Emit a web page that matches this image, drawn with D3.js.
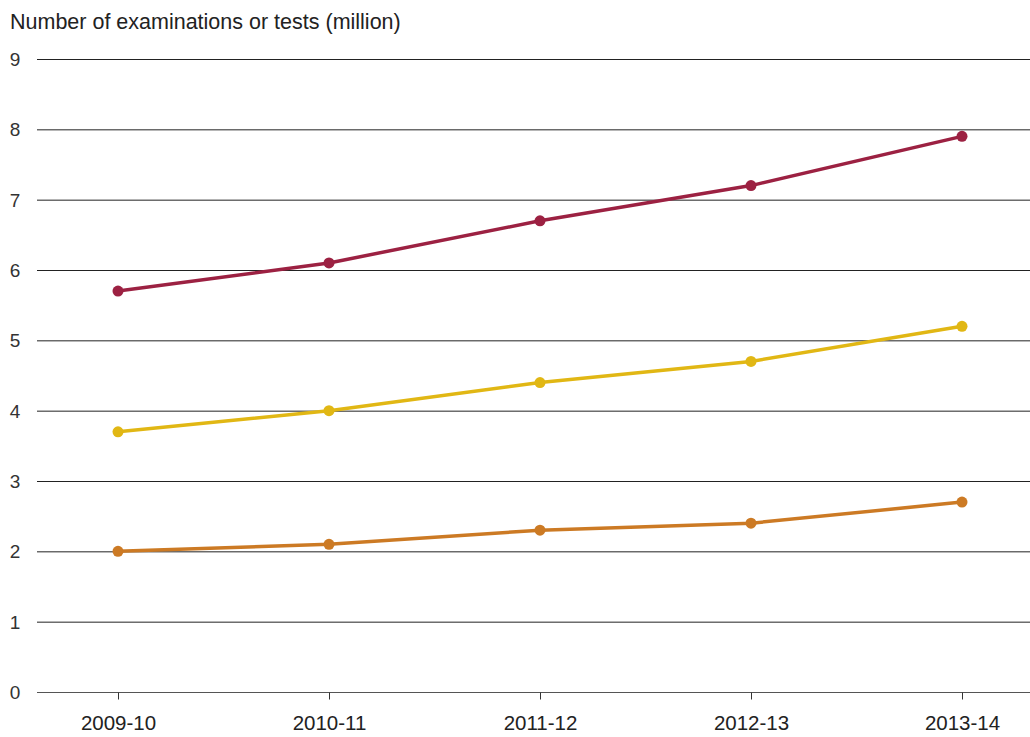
<!DOCTYPE html>
<html>
<head>
    <style>
    body { margin: 0; background: #fff; }
    text { font-family: "Liberation Sans", Arial, sans-serif; }
    </style>
</head>
<body>
    <svg width="1030" height="737"></svg>
    <script src="https://d3js.org/d3.v7.min.js"></script>
    <script>

        var years = ["2009-10", "2010-11", "2011-12", "2012-13", "2013-14"];
        var yTicks = [0, 1, 2, 3, 4, 5, 6, 7, 8, 9];
        var seriesRed = [5.7, 6.1, 6.7, 7.2, 7.9];
        var seriesYellow = [3.7, 4.0, 4.4, 4.7, 5.2];
        var seriesOrange = [2.0, 2.1, 2.3, 2.4, 2.7];
        var yTitle = "Number of examinations or tests (million)";

        var series = [
            { values: seriesRed, color: "#9c2142" },
            { values: seriesYellow, color: "#e1b714" },
            { values: seriesOrange, color: "#cc7a24" }
        ];

        var svg = d3.select("svg");

        var x = d3.scalePoint()
            .domain(years)
            .range([118, 962]);

        var y = d3.scaleLinear()
            .domain([0, 9])
            .range([692, 59]);

        svg.append("text")
            .attr("x", 10)
            .attr("y", 29)
            .attr("font-size", 21.5)
            .attr("fill", "#222")
            .text(yTitle);

        // grid lines + y labels
        var gy = svg.append("g");
        gy.selectAll("line")
            .data(yTicks)
            .enter().append("line")
            .attr("x1", 37)
            .attr("x2", 1030)
            .attr("y1", function (d) { return y(d) + 0.5; })
            .attr("y2", function (d) { return y(d) + 0.5; })
            .attr("stroke", function (d) { return d === 0 ? "#555" : "#222"; })
            .attr("stroke-width", 1);

        gy.selectAll("text")
            .data(yTicks)
            .enter().append("text")
            .attr("x", 15)
            .attr("y", function (d) { return y(d); })
            .attr("dy", "0.36em")
            .attr("text-anchor", "middle")
            .attr("font-size", 19)
            .attr("fill", "#333")
            .text(function (d) { return d; });

        // x axis
        var xAxis = svg.append("g")
            .attr("transform", "translate(0," + (y(0) + 0.5) + ")")
            .call(d3.axisBottom(x).tickSize(7).tickPadding(16));
        xAxis.select(".domain").remove();
        xAxis.selectAll(".tick line").attr("stroke", "#333");
        xAxis.selectAll(".tick text")
            .attr("font-family", "Liberation Sans, Arial, sans-serif")
            .attr("font-size", 20.5)
            .attr("fill", "#222");

        var line = d3.line()
            .x(function (d, i) { return x(years[i]); })
            .y(function (d) { return y(d); });

        series.forEach(function (s) {
            svg.append("path")
                .datum(s.values)
                .attr("fill", "none")
                .attr("stroke", s.color)
                .attr("stroke-width", 3.5)
                .attr("stroke-linejoin", "round")
                .attr("d", line);

            svg.append("g").selectAll("circle")
                .data(s.values)
                .enter().append("circle")
                .attr("cx", function (d, i) { return x(years[i]); })
                .attr("cy", function (d) { return y(d); })
                .attr("r", 5.5)
                .attr("fill", s.color);
        });

    </script>
</body>
</html>
